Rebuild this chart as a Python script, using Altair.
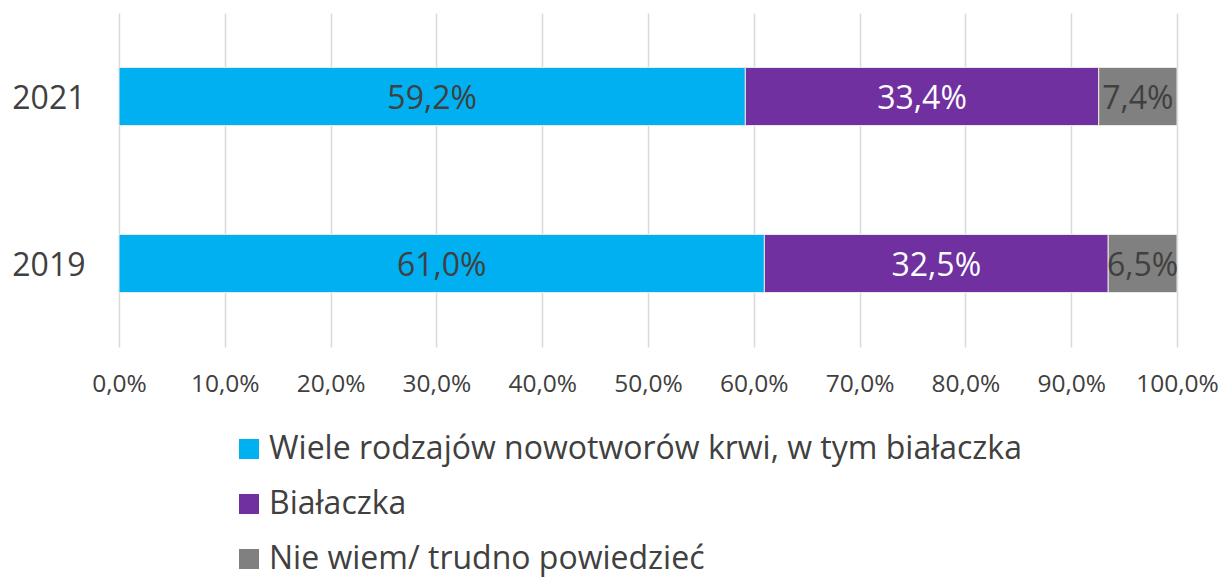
import altair as alt
import pandas as pd

years = ["2021", "2019"]
series = ["Wiele rodzajów nowotworów krwi, w tym białaczka", "Białaczka", "Nie wiem/ trudno powiedzieć"]
vals_2021 = [59.2, 33.4, 7.4]
vals_2019 = [61.0, 32.5, 6.5]
colors = ["#00B0F0", "#7030A0", "#808080"]
label_colors = ["#404040", "#FFFFFF", "#404040"]

rows = []
for y, vals in zip(years, [vals_2021, vals_2019]):
    for i, (s, v) in enumerate(zip(series, vals)):
        rows.append({"year": y, "series": s, "value": v, "ord": i, "lc": label_colors[i]})
df = pd.DataFrame(rows)

font = "Open Sans"
pct = "replace(format(datum.value, '.1f'), '.', ',') + '%'"

base = alt.Chart(df)

yenc = alt.Y("year:N", sort=years, title=None,
             scale=alt.Scale(paddingInner=0, paddingOuter=0),
             axis=alt.Axis(domain=False, ticks=False, labelFontSize=32, labelFont=font,
                           labelColor="#404040", labelPadding=34, labelOffset=2, grid=False))

bars = base.mark_bar(size=58, stroke="#e8e8e8", strokeWidth=1).encode(
    x=alt.X("value:Q", stack="zero", title=None,
            scale=alt.Scale(domain=[0, 100], nice=False),
            axis=alt.Axis(values=list(range(0, 101, 10)), labelExpr=pct, domain=False, ticks=False,
                          grid=True, gridColor="#d9d9d9", gridWidth=1.5, labelFlush=False,
                          labelFontSize=24.5, labelFont=font, labelColor="#404040", labelPadding=25)),
    y=yenc,
    color=alt.Color("series:N", sort=series,
                    scale=alt.Scale(domain=series, range=colors),
                    legend=alt.Legend(title=None, orient="none", legendX=114, legendY=420,
                                      direction="vertical", symbolType="square", symbolSize=400,
                                      symbolStrokeWidth=0, labelFontSize=32, labelFont=font,
                                      labelColor="#404040", rowPadding=23, labelOffset=4,
                                      labelLimit=1000)),
    order=alt.Order("ord:Q"),
)

labels = base.transform_stack(
    stack="value", groupby=["year"], as_=["v0", "v1"], sort=[alt.SortField("ord")]
).transform_calculate(
    mid="(datum.v0 + datum.v1) / 2",
    txt="replace(format(datum.value, '.1f'), '.', ',') + '%'",
).mark_text(fontSize=32, font=font, baseline="middle", dy=2).encode(
    x=alt.X("mid:Q"),
    y=alt.Y("year:N", sort=years),
    text="txt:N",
    color=alt.Color("lc:N", scale=None),
)

chart = alt.layer(bars, labels).properties(
    width=1058, height=334,
    autosize=alt.AutoSizeParams(type="none"),
    padding={"left": 111, "top": 5, "right": 42, "bottom": 230},
).configure_view(stroke=None)

chart.save("out.html", embed_options={"renderer": "svg", "actions": False})
